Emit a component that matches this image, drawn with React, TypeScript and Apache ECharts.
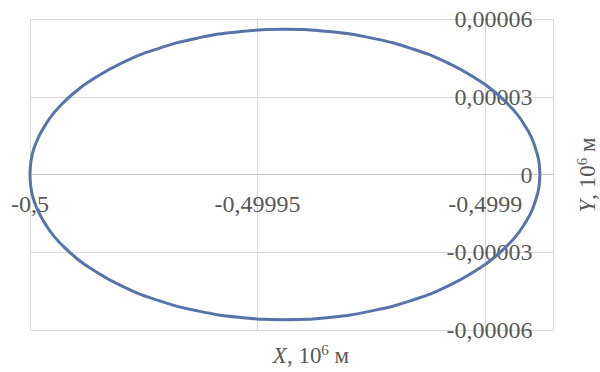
import React, { useEffect, useRef } from "react";
import * as echarts from "echarts";

// Trajectory points (X, Y in units of 10^6 m), traced clockwise from the leftmost point
const trajX: number[] = [
  -0.5, -0.4999998, -0.4999992, -0.4999981, -0.4999966, -0.4999948, -0.4999925,
  -0.4999899, -0.4999869, -0.49998, -0.499972, -0.4999632, -0.4999537, -0.499944,
  -0.4999343, -0.4999249, -0.499916, -0.499908, -0.4999011, -0.4998981, -0.4998955,
  -0.4998932, -0.4998914, -0.4998899, -0.4998889, -0.4998882, -0.499888,
  -0.4998882, -0.4998889, -0.4998899, -0.4998914, -0.4998932, -0.4998955,
  -0.4998981, -0.4999011, -0.499908, -0.499916, -0.4999249, -0.4999343, -0.499944,
  -0.4999537, -0.4999632, -0.499972, -0.49998, -0.4999869, -0.4999899, -0.4999925,
  -0.4999948, -0.4999966, -0.4999981, -0.4999992, -0.4999998, -0.5,
];
const trajY: number[] = [
  0, 0.00000488, 0.00000972, 0.00001449, 0.00001915, 0.00002367, 0.000028,
  0.00003212, 0.000036, 0.0000429, 0.0000485, 0.00005262, 0.00005515, 0.000056,
  0.00005515, 0.00005262, 0.0000485, 0.0000429, 0.000036, 0.00003212, 0.000028,
  0.00002367, 0.00001915, 0.00001449, 0.00000972, 0.00000488, 0,
  -0.00000488, -0.00000972, -0.00001449, -0.00001915, -0.00002367, -0.000028,
  -0.00003212, -0.000036, -0.0000429, -0.0000485, -0.00005262, -0.00005515, -0.000056,
  -0.00005515, -0.00005262, -0.0000485, -0.0000429, -0.000036, -0.00003212, -0.000028,
  -0.00002367, -0.00001915, -0.00001449, -0.00000972, -0.00000488, 0,
];

// Axis ranges and tick steps
const xRange: [number, number] = [-0.5, -0.499885];
const xStep = 0.00005;
const yRange: [number, number] = [-0.00006, 0.00006];
const yStep = 0.00003;

const FONT = '"Liberation Serif", "Times New Roman", serif';
const TEXT_COLOR = "#595959";
const GRID_COLOR = "#d9d9d9";

const GRID = { left: 30, right: 46.5, top: 19, bottom: 42 };
const PLOT_H = 372 - GRID.top - GRID.bottom;

// Decimal comma formatting for tick labels
const fmt = (v: number): string =>
  String(parseFloat(v.toFixed(7))).replace(".", ",");

const titleRich = {
  i: { fontStyle: "italic", fontFamily: FONT, fontSize: 23, fill: TEXT_COLOR },
  n: { fontFamily: FONT, fontSize: 23, fill: TEXT_COLOR },
  s: { fontFamily: FONT, fontSize: 15, fill: TEXT_COLOR, verticalAlign: "top", padding: [0, 0, 10, 0] },
};

export default function App() {
  const ref = useRef<HTMLDivElement>(null);

  useEffect(() => {
    document.body.style.margin = "0";
    if (!ref.current) return;
    const chart = echarts.init(ref.current, undefined, { renderer: "svg" });

    const pts = trajX.map((x, i) => [x, trajY[i]]);
    // repeat the second point so the curve closes smoothly at the start
    const data = pts.concat([pts[1]]);

    // the horizontal axis sits on Y = 0, i.e. in the middle of the plot
    const zeroOffset = -PLOT_H * (0 - yRange[0]) / (yRange[1] - yRange[0]);

    chart.setOption({
      animation: false,
      backgroundColor: "#ffffff",
      grid: { ...GRID, containLabel: false },
      xAxis: {
        type: "value",
        min: xRange[0],
        max: xRange[1],
        interval: xStep,
        position: "bottom",
        offset: zeroOffset,
        axisLine: { show: true, onZero: false, lineStyle: { color: "#c8c8c8", width: 1 } },
        axisTick: { show: false },
        axisLabel: {
          margin: 17,
          showMaxLabel: false,
          formatter: fmt,
          color: TEXT_COLOR,
          fontFamily: FONT,
          fontSize: 24,
        },
        splitLine: { show: true, lineStyle: { color: GRID_COLOR, width: 1 } },
      },
      yAxis: {
        type: "value",
        position: "right",
        min: yRange[0],
        max: yRange[1],
        interval: yStep,
        axisLine: { show: false, onZero: false },
        axisTick: { show: false },
        axisLabel: {
          inside: true,
          margin: 21,
          formatter: fmt,
          color: TEXT_COLOR,
          fontFamily: FONT,
          fontSize: 24,
        },
        splitLine: { show: true, lineStyle: { color: GRID_COLOR, width: 1 } },
      },
      series: [
        {
          type: "line",
          data,
          smooth: true,
          showSymbol: false,
          clip: false,
          lineStyle: { color: "#5773a9", width: 3 },
        },
      ],
      graphic: [
        {
          type: "text",
          x: 311,
          y: 355,
          style: {
            text: "{i|X}{n|, 10}{s|6}{n| м}",
            align: "center",
            verticalAlign: "middle",
            fill: TEXT_COLOR,
            fontFamily: FONT,
            fontSize: 23,
            rich: titleRich,
          },
        },
        {
          type: "text",
          x: 587,
          y: 175,
          rotation: Math.PI / 2,
          style: {
            text: "{i|Y}{n|, 10}{s|6}{n| м}",
            align: "center",
            verticalAlign: "middle",
            fill: TEXT_COLOR,
            fontFamily: FONT,
            fontSize: 23,
            rich: titleRich,
          },
        },
      ],
    });

    return () => chart.dispose();
  }, []);

  return <div ref={ref} style={{ width: 600, height: 372 }} />;
}
